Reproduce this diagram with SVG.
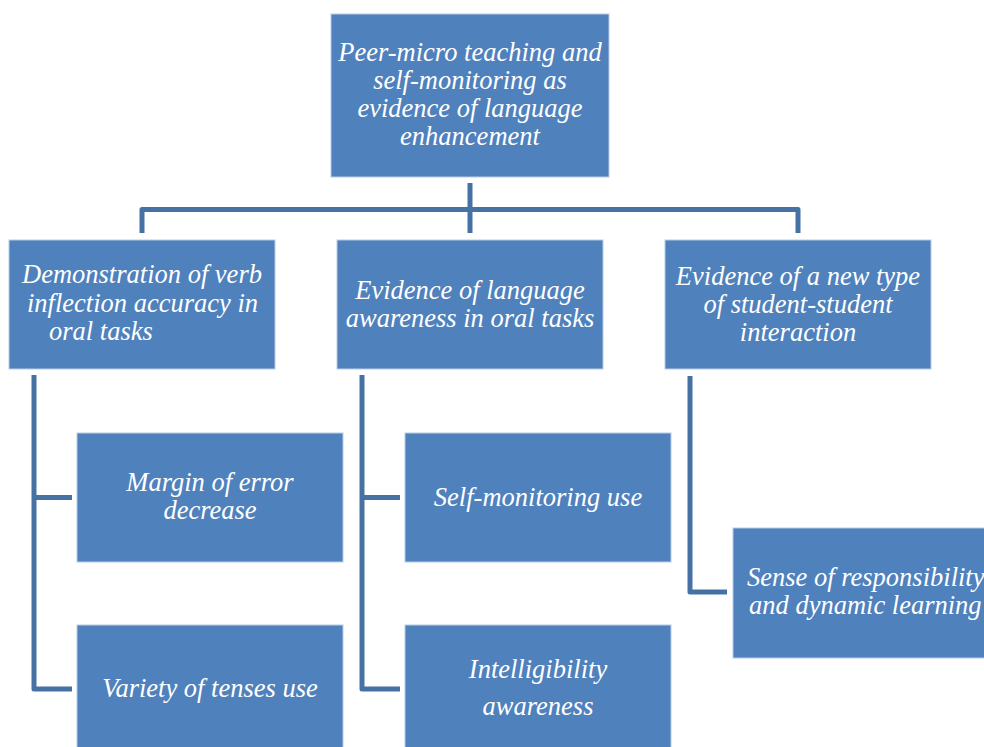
<svg xmlns="http://www.w3.org/2000/svg" width="984" height="747" viewBox="0 0 984 747">
<style>
.box{fill:#4f81bd;stroke:#b9cde6;stroke-width:1}
.t{font-family:"Liberation Serif","Times New Roman",serif;font-style:italic;font-size:26.5px;fill:#ffffff}
.c{text-anchor:middle}
.ln{fill:none;stroke:#4671a5;stroke-width:5;stroke-linejoin:round}
</style>
<rect width="984" height="747" fill="#ffffff"/>
<g id="connectors">
<path class="ln" d="M470,183 V233"/>
<path class="ln" d="M142,233 V209.5 H798 V233"/>
<path class="ln" d="M34,375 V689 H72 M34,497.5 H72"/>
<path class="ln" d="M362,375 V689 H400 M362,497.5 H400"/>
<path class="ln" d="M690,376 V592 H727"/>
</g>
<g id="root">
<rect class="box" x="331" y="14" width="278" height="163"/>
<text class="t c" x="470" y="61">Peer-micro teaching and</text>
<text class="t c" x="470" y="89">self-monitoring as</text>
<text class="t c" x="470" y="117">evidence of language</text>
<text class="t c" x="470" y="145">enhancement</text>
</g>
<g id="verb">
<rect class="box" x="9" y="240" width="266" height="129"/>
<text class="t" x="22" y="283">Demonstration of verb</text>
<text class="t" x="27" y="312">inflection accuracy in</text>
<text class="t" x="49" y="340">oral tasks</text>
</g>
<g id="awareness">
<rect class="box" x="337" y="240" width="266" height="129"/>
<text class="t c" x="470" y="299">Evidence of language</text>
<text class="t c" x="470" y="327">awareness in oral tasks</text>
</g>
<g id="interaction">
<rect class="box" x="665" y="240" width="266" height="129"/>
<text class="t c" x="798" y="285">Evidence of a new type</text>
<text class="t c" x="798" y="313">of student-student</text>
<text class="t c" x="798" y="341">interaction</text>
</g>
<g id="margin">
<rect class="box" x="77" y="433" width="266" height="129"/>
<text class="t c" x="210" y="491">Margin of error</text>
<text class="t c" x="210" y="519">decrease</text>
</g>
<g id="variety">
<rect class="box" x="77" y="625" width="266" height="130"/>
<text class="t c" x="210" y="697">Variety of tenses use</text>
</g>
<g id="selfmon">
<rect class="box" x="405" y="433" width="266" height="129"/>
<text class="t c" x="538" y="506">Self-monitoring use</text>
</g>
<g id="intelligibility">
<rect class="box" x="405" y="625" width="266" height="130"/>
<text class="t c" x="538" y="678">Intelligibility</text>
<text class="t c" x="538" y="715">awareness</text>
</g>
<g id="responsibility">
<rect class="box" x="733" y="528" width="266" height="130"/>
<text class="t" x="747" y="586">Sense of responsibility</text>
<text class="t" x="749" y="614">and dynamic learning</text>
</g>
</svg>
